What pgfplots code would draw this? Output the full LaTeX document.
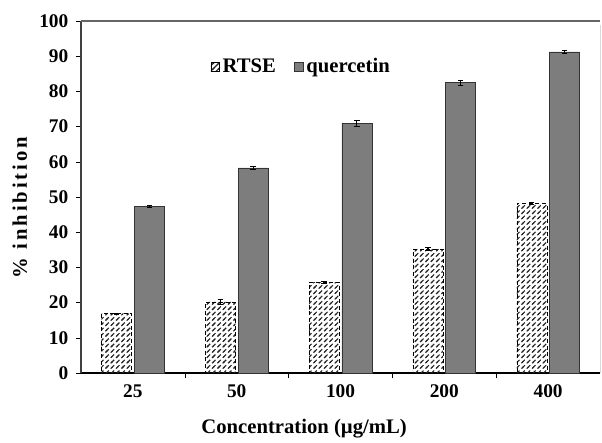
\documentclass[border=0pt]{standalone}
\usepackage{fontspec}
\setmainfont{Liberation Serif}
\usepackage{pgfplots}
\pgfplotsset{compat=1.18}
\usetikzlibrary{patterns}
\definecolor{qgray}{RGB}{125,125,125}
\pgfdeclarepatternformonly{widehatch}{\pgfqpoint{-1pt}{-1pt}}{\pgfqpoint{5pt}{5pt}}{\pgfqpoint{4pt}{4pt}}{%
  \pgfsetlinewidth{0.8pt}
  \pgfpathmoveto{\pgfqpoint{-0.5pt}{-0.5pt}}
  \pgfpathlineto{\pgfqpoint{4.5pt}{4.5pt}}
  \pgfusepath{stroke}}
\begin{document}
\begin{tikzpicture}[x=1pt,y=1pt]
\useasboundingbox (-60.75,-51.75) rectangle (390.75,279.75);
\begin{axis}[
  at={(0,0)}, anchor=south west,
  scale only axis,
  width=389.25pt, height=264pt,
  ybar, bar width=22.5pt,
  xmin=-0.5, xmax=4.5, ymin=0, ymax=100,
  xtick={0.5,1.5,2.5,3.5}, xticklabels={},
  extra x ticks={0,1,2,3,4},
  extra x tick labels={25,50,100,200,400},
  extra x tick style={major tick length=0pt, xticklabel style={yshift=-5pt}},
  x tick style={black},
  ytick={0,10,...,100},
  tick align=outside,
  ytick pos=left, xtick pos=bottom,
  y tick style={black},
  major tick length=4pt,
  axis x line*=bottom, axis y line*=left,
  x axis line style={black, thick, -},
  y axis line style={black!75, thick, -},
  /pgf/number format/assume math mode=true,
  tick label style={font=\fontsize{14.5}{14.5}\selectfont\bfseries},
  yticklabel style={xshift=-2pt},
  ylabel={\addfontfeatures{LetterSpace=14}\% inhibition},
  xlabel={Concentration (µg/mL)},
  ylabel style={font=\fontsize{15.5}{15.5}\selectfont\bfseries, at={(axis description cs:-0.118,0.47)}, anchor=center},
  xlabel style={font=\fontsize{15.5}{15.5}\selectfont\bfseries, at={(axis description cs:0.43,-0.157)}, anchor=center},
  legend style={draw=none, fill=none, at={(0.425,0.87)}, anchor=center,
    legend columns=2, font=\fontsize{15.5}{15.5}\selectfont\bfseries,
    /tikz/every even column/.append style={column sep=12pt}},
  legend image code/.code={\draw[#1, solid] (0pt,-3.5pt) rectangle (6.5pt,3.5pt);},
  legend cell align=left,
  clip=false,
]
\addplot[draw=black, densely dashed, fill=white, pattern=widehatch, pattern color=black!85,
  error bars/.cd, y dir=both, y explicit, error bar style={black, solid, thick}, error mark options={rotate=90, mark size=2pt, black, solid}]
  coordinates {(0,16.9) +- (0,0.2) (1,20.2) +- (0,0.8) (2,25.8) +- (0,0.3) (3,35.2) +- (0,0.4) (4,48.1) +- (0,0.3)};
\addlegendentry{RTSE}
\addplot[draw=black!80, fill=qgray,
  error bars/.cd, y dir=both, y explicit, error bar style={black, thick}, error mark options={rotate=90, mark size=2pt, black}]
  coordinates {(0,47.3) +- (0,0.3) (1,58.3) +- (0,0.4) (2,71.0) +- (0,0.8) (3,82.5) +- (0,0.7) (4,91.2) +- (0,0.4)};
\addlegendentry{quercetin}
\draw[black!60, thick] (rel axis cs:0,1) -- (rel axis cs:1,1);
\draw[black!15] (rel axis cs:1,0.99) -- (rel axis cs:1,0.0);
\end{axis}
\end{tikzpicture}
\end{document}
